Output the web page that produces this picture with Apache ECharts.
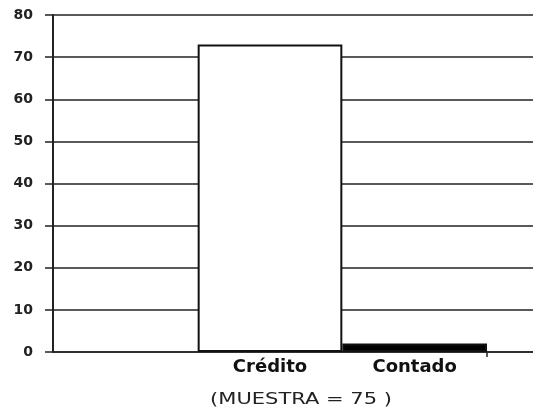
<!DOCTYPE html>
<html>
<head>
<meta charset="utf-8">
<script src="https://cdn.jsdelivr.net/npm/echarts@6/dist/echarts.min.js"></script>
<style>html,body{margin:0;padding:0;background:#fff}#c{width:533px;height:413px}</style>
</head>
<body>
<div id="c"></div>
<script>
const categories = ['', 'Crédito', 'Contado'];
const values = [null, 73, 2];
const yMin = 0, yMax = 80, yStep = 10;
const footnote = '(MUESTRA = 75 )';

const fills = ['#ffffff', '#ffffff', '#000000'];
const lineColor = '#222';
const chart = echarts.init(document.getElementById('c'));
chart.setOption({
  animation: false,
  backgroundColor: '#fff',
  grid: [
    {left: 53, right: 46, top: 15, bottom: 61},
    {left: 487, right: 0, top: 15, bottom: 61}
  ],
  xAxis: [
    {
      type: 'category', gridIndex: 0, data: categories, boundaryGap: true,
      axisLine: {lineStyle: {color: lineColor, width: 1.5}},
      axisTick: {show: false},
      axisLabel: {color: '#111', fontFamily: 'DejaVu Sans', fontWeight: 'bold', fontSize: 18, margin: 6}
    },
    {
      type: 'category', gridIndex: 1, data: ['', ''], boundaryGap: false,
      axisLine: {lineStyle: {color: lineColor, width: 1.5}},
      axisTick: {show: true, length: 5, interval: function (i) { return i === 0; }, lineStyle: {color: lineColor, width: 1.5}},
      axisLabel: {show: false}
    }
  ],
  yAxis: [
    {
      type: 'value', gridIndex: 0, min: yMin, max: yMax, interval: yStep,
      axisLine: {show: true, lineStyle: {color: lineColor, width: 2}},
      axisTick: {show: true, length: 8, lineStyle: {color: lineColor, width: 1.5}},
      splitLine: {show: true, lineStyle: {color: lineColor, width: 1.5}},
      axisLabel: {color: '#222', fontFamily: 'DejaVu Sans', fontWeight: 'bold', fontSize: 14, margin: 20}
    },
    {
      type: 'value', gridIndex: 1, min: yMin, max: yMax, interval: yStep,
      axisLine: {show: false}, axisTick: {show: false}, axisLabel: {show: false},
      splitLine: {show: true, lineStyle: {color: lineColor, width: 1.5}}
    }
  ],
  series: [{
    type: 'bar', xAxisIndex: 0, yAxisIndex: 0,
    barCategoryGap: '0%',
    data: values.map((v, i) => ({
      value: v,
      itemStyle: {color: fills[i], borderColor: '#111', borderWidth: 2}
    }))
  }],
  graphic: [{
    type: 'text', x: 301, y: 400, scaleX: 1.4,
    style: {text: footnote, fill: '#222', font: '15px "DejaVu Sans"', textAlign: 'center', textVerticalAlign: 'middle'}
  }]
});
</script>
</body>
</html>
